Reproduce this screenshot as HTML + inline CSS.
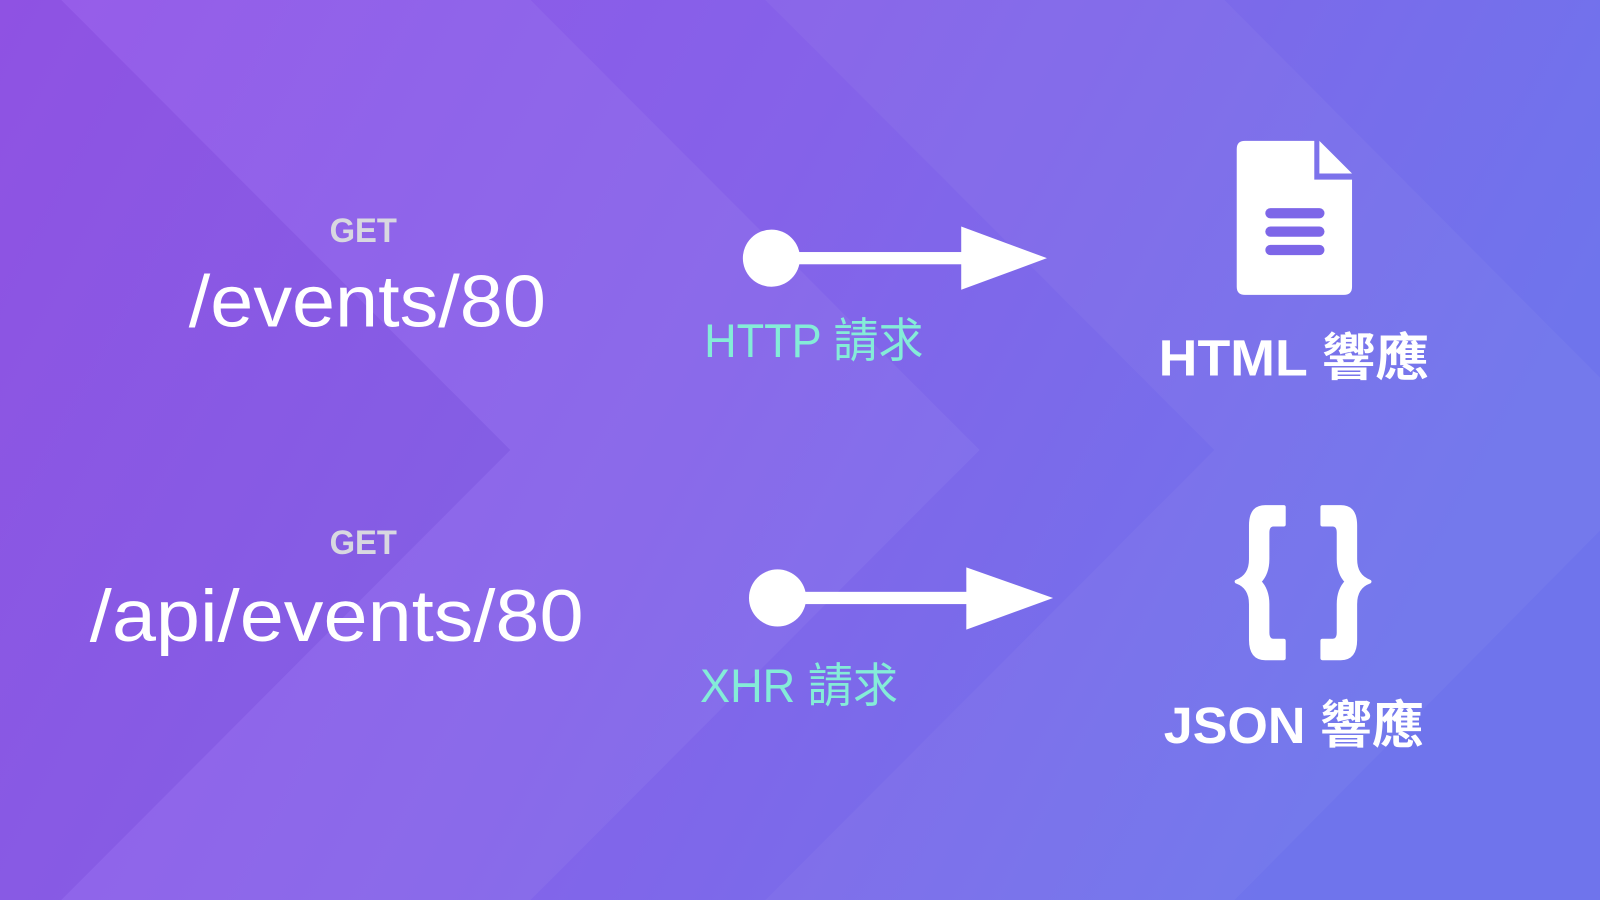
<!DOCTYPE html>
<html><head><meta charset="utf-8"><style>
html,body{margin:0;padding:0;width:1600px;height:900px;overflow:hidden}
svg{display:block}
text{font-family:"Liberation Sans","Noto Sans CJK TC",sans-serif}
</style></head><body>
<svg width="1600" height="900" viewBox="0 0 1568 882" preserveAspectRatio="none" xmlns="http://www.w3.org/2000/svg">
<defs>
<linearGradient id="bg" x1="0" y1="0" x2="1" y2="0.3">
<stop offset="0" stop-color="#9254e8"/>
<stop offset="0.5" stop-color="#8562e9"/>
<stop offset="1" stop-color="#6f74ec"/>
</linearGradient>
</defs>
<rect width="1568" height="882" fill="url(#bg)"/>
<polygon points="60,0 520,0 960,441 520,882 60,882 500,441" fill="#ffffff" opacity="0.05"/>
<polygon points="750,0 1200,0 1568,370 1568,520 1210,882 750,882 1190,441" fill="#ffffff" opacity="0.04"/>
<polygon points="0,0 60,0 500,441 60,882 0,882" fill="#000" opacity="0.02"/>

<text x="356" y="237" text-anchor="middle" font-size="34" font-weight="bold" fill="#d8d8e0" textLength="66" lengthAdjust="spacingAndGlyphs">GET</text>
<text x="360" y="320" text-anchor="middle" font-size="72" fill="#ffffff" textLength="350" lengthAdjust="spacingAndGlyphs">/events/80</text>
<text x="356" y="543" text-anchor="middle" font-size="34" font-weight="bold" fill="#d8d8e0" textLength="66" lengthAdjust="spacingAndGlyphs">GET</text>
<text x="330" y="628" text-anchor="middle" font-size="72" fill="#ffffff" textLength="484" lengthAdjust="spacingAndGlyphs">/api/events/80</text>

<circle cx="756" cy="253" r="28" fill="#fff"/>
<rect x="756" y="247" width="190" height="12" fill="#fff"/>
<polygon points="942,222 1026,253 942,284" fill="#fff"/>
<circle cx="762" cy="586" r="28" fill="#fff"/>
<rect x="762" y="580" width="190" height="12" fill="#fff"/>
<polygon points="947,556 1032,586 947,617" fill="#fff"/>

<text x="690" y="350" font-size="46" fill="#84ecd8" textLength="215" lengthAdjust="spacingAndGlyphs">HTTP 請求</text>
<text x="686" y="688" font-size="46" fill="#84ecd8" textLength="194" lengthAdjust="spacingAndGlyphs">XHR 請求</text>

<path d="M1220,138 L1288,138 L1288,176 L1325,176 L1325,281 Q1325,289 1317,289 L1220,289 Q1212,289 1212,281 L1212,146 Q1212,138 1220,138 Z" fill="#fff"/>
<polygon points="1293,138 1325,170 1293,170" fill="#fff"/>
<rect x="1240" y="204" width="58" height="10" rx="5" fill="#7d66e8"/>
<rect x="1240" y="222" width="58" height="10" rx="5" fill="#7d66e8"/>
<rect x="1240" y="240" width="58" height="10" rx="5" fill="#7d66e8"/>

<text x="1268" y="368" text-anchor="middle" font-size="50" font-weight="bold" fill="#fff" textLength="265" lengthAdjust="spacingAndGlyphs">HTML 響應</text>
<text x="1268" y="728" text-anchor="middle" font-size="50" font-weight="bold" fill="#fff" textLength="255" lengthAdjust="spacingAndGlyphs">JSON 響應</text>

<path d="M1258,497 L1240,497 Q1226,497 1226,515 L1226,548 Q1226,565 1212,570 Q1226,575 1226,592 L1226,627 Q1226,645 1240,645 L1258,645 L1258,628 L1248,628 Q1242,628 1242,620 L1242,592 Q1242,578 1234,570 Q1242,562 1242,548 L1242,522 Q1242,514 1248,514 L1258,514 Z" fill="#fff" stroke="#fff" stroke-width="4" stroke-linejoin="round"/>
<path d="M1296,497 L1314,497 Q1328,497 1328,515 L1328,548 Q1328,565 1342,570 Q1328,575 1328,592 L1328,627 Q1328,645 1314,645 L1296,645 L1296,628 L1306,628 Q1312,628 1312,620 L1312,592 Q1312,578 1320,570 Q1312,562 1312,548 L1312,522 Q1312,514 1306,514 L1296,514 Z" fill="#fff" stroke="#fff" stroke-width="4" stroke-linejoin="round"/>
</svg>
</body></html>
